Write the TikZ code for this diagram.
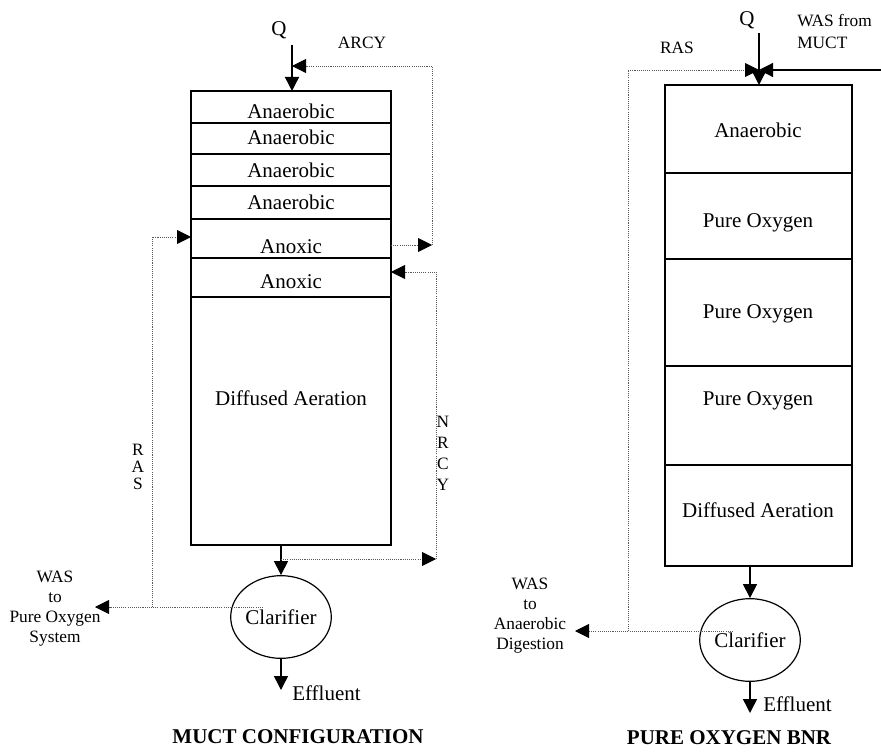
\documentclass[tikz,border=0pt]{standalone}
\usepackage{fontspec}
\setmainfont{Liberation Serif}
\usetikzlibrary{arrows.meta,shapes.geometric}

\begin{document}
\begin{tikzpicture}[x=0.75pt,y=-0.75pt,
  tank/.style={line width=1.1pt},
  zone/.style={font=\fontsize{15.75}{19}\selectfont,inner sep=0pt},
  tag/.style={font=\fontsize{13}{15}\selectfont,inner sep=0pt},
  flow/.style={line width=1.1pt,-{Triangle[length=10.5pt,width=10.5pt]}},
  rcy/.style={line width=0.65pt,black!65,dash pattern=on 0.8pt off 0.8pt},
  rcyarr/.style={rcy,-{Triangle[black,length=10.5pt,width=10.5pt]}},
  clar/.style={draw,ellipse,line width=0.9pt,minimum width=69pt,minimum height=62pt,inner sep=0pt,font=\fontsize{15.75}{19}\selectfont}]
\useasboundingbox (0,0) rectangle (881,752);

% MUCT tank
\draw[tank] (191,91) rectangle (391,545);
\foreach \yy in {123,154,186,219,258,297}
  \draw[tank] (191,\yy) -- (391,\yy);
\node[zone] (man1) at (291,111) {Anaerobic};
\node[zone] (man2) at (291,137) {Anaerobic};
\node[zone] (man3) at (291,170) {Anaerobic};
\node[zone] (man4) at (291,202) {Anaerobic};
\node[zone] (max1) at (291,247) {Anoxic};
\node[zone] (max2) at (291,282) {Anoxic};
\node[zone] (mdif) at (291,398) {Diffused Aeration};

% MUCT influent and ARCY
\coordinate (mq) at (292,45);
\coordinate (mtop) at (292,91);
\draw[flow] (mq) -- (mtop);
\node[zone] (mqlbl) at (279,30) {Q};
\node[tag] (marcy) at (362,43) {ARCY};
\coordinate (arcyout) at (391,245);
\coordinate (arcyc) at (432,245);
\coordinate (arcyin) at (292,66);
\draw[rcyarr] (arcyout) -- (arcyc);
\draw[rcyarr] (arcyc) |- (arcyin);

% MUCT clarifier
\node[clar] (mclar) at (281,617) {Clarifier};
\coordinate (mbot) at (281,545);
\draw[flow] (mbot) -- (mclar.north);
\coordinate (meff) at (281,690);
\draw[flow] (mclar.south) -- (meff);
\node[zone,anchor=west] (meffl) at (292,693) {Effluent};

% NRCY
\coordinate (msplit) at (281,559);
\coordinate (nrcyc) at (436,559);
\coordinate (nrcyin) at (391,272);
\draw[rcyarr] (msplit) -- (nrcyc);
\draw[rcyarr] (nrcyc) |- (nrcyin);
\node[tag,align=center,font=\fontsize{13}{15.75}\selectfont] (mnrcy) at (443,453) {N\\R\\C\\Y};

% RAS and WAS
\coordinate (mras0) at (263,607);
\coordinate (mwas) at (95,607);
\coordinate (mrasc) at (152,607);
\coordinate (mrasin) at (191,237);
\draw[rcyarr] (mras0) -- (mwas);
\draw[rcyarr] (mrasc) |- (mrasin);
\node[tag,align=center,font=\fontsize{13}{12.75}\selectfont] (mraslbl) at (138,467) {R\\A\\S};
\node[tag,align=center] (mwaslbl) at (55,609) {WAS\\to\\Pure Oxygen\\System};

\node[zone,font=\bfseries\fontsize{15.75}{19}\selectfont] (mtitle) at (298,737) {MUCT CONFIGURATION};

% Pure oxygen tank
\draw[tank] (665,85) rectangle (852,566);
\foreach \yy in {173,259,366,465}
  \draw[tank] (665,\yy) -- (852,\yy);
\node[zone] (pan) at (758,130) {Anaerobic};
\node[zone] (pox1) at (758,223) {Pure Oxygen};
\node[zone] (pox2) at (758,314) {Pure Oxygen};
\node[zone] (pox3) at (758,401) {Pure Oxygen};
\node[zone] (pdif) at (758,510) {Diffused Aeration};

% influent, RAS and WAS from MUCT
\coordinate (pq) at (759,33);
\coordinate (ptop) at (759,85);
\draw[flow] (pq) -- (ptop);
\node[zone] (pqlbl) at (747,20) {Q};
\coordinate (wasin) at (881,70);
\coordinate (pjoin) at (759,70);
\draw[flow,line width=0.9pt] (wasin) -- (pjoin);
\node[tag,align=left,anchor=west,font=\fontsize{13}{16.5}\selectfont] (pwasin) at (797,31) {WAS from\\MUCT};
\node[tag] (praslbl) at (677,48) {RAS};

% clarifier
\node[clar] (pclar) at (750,640) {Clarifier};
\coordinate (pbot) at (750,566);
\draw[flow] (pbot) -- (pclar.north);
\coordinate (peff) at (750,713);
\draw[flow] (pclar.south) -- (peff);
\node[zone,anchor=west] (peffl) at (763,704) {Effluent};

\coordinate (pras0) at (733,631);
\coordinate (pwas) at (575,631);
\coordinate (prasc) at (628,631);
\draw[rcyarr] (pras0) -- (pwas);
\draw[rcyarr] (prasc) |- (pjoin);
\node[tag,align=center] (pwaslbl) at (530,616) {WAS\\to\\Anaerobic\\Digestion};

\node[zone,font=\bfseries\fontsize{15.75}{19}\selectfont] (ptitle) at (729,738) {PURE OXYGEN BNR};
\end{tikzpicture}
\end{document}
